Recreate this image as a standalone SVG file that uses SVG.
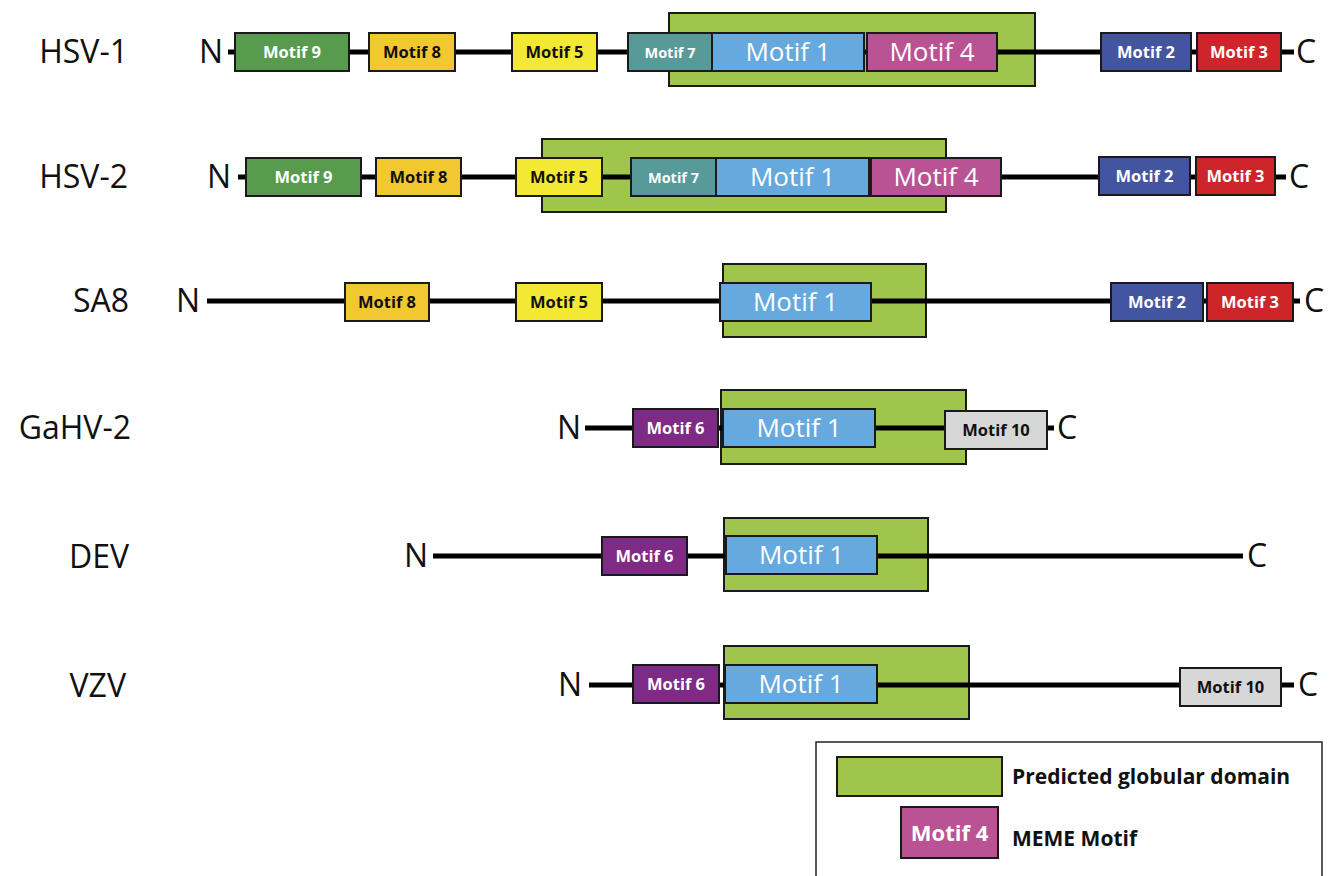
<svg xmlns="http://www.w3.org/2000/svg" width="1333" height="876" viewBox="0 0 1333 876">
<style>
text{font-family:"Open Sans","Liberation Sans",sans-serif}
.lbl{font-size:32px;fill:#111}
.end{font-size:32px;fill:#111}
.dom{fill:#9fc54d;stroke:#1a1a1a;stroke-width:2}
.box{stroke:#1a1a1a;stroke-width:2}
.bb{stroke:#000;stroke-width:5}
.sm{font-size:16.5px;font-weight:bold;text-anchor:middle;fill:#fff}
.m7t{font-size:14.5px}
.dk{fill:#111}
.lg{font-size:26px;text-anchor:middle;fill:#fff}
.m9{fill:#589b4e}.m8{fill:#f2c830}.m5{fill:#f3e834}.m7{fill:#579a98}.m1{fill:#65a9df}.m4{fill:#b95394}.m2{fill:#4455a0}.m3{fill:#cd2529}.m6{fill:#7e2b85}.m10{fill:#d7d7d7}
.leg{font-size:21px;font-weight:bold;fill:#111}
</style>
<rect width="1333" height="876" fill="#fff"/>

<g id="labels">
<text class="lbl" x="128" y="63" text-anchor="end">HSV-1</text>
<text class="lbl" x="128" y="188" text-anchor="end">HSV-2</text>
<text class="lbl" x="129" y="312" text-anchor="end">SA8</text>
<text class="lbl" x="131" y="439" text-anchor="end">GaHV-2</text>
<text class="lbl" x="129" y="568" text-anchor="end">DEV</text>
<text class="lbl" x="126" y="697" text-anchor="end">VZV</text>
</g>

<g id="domains">
<rect id="dom-hsv1" class="dom" x="669" y="13" width="366" height="73"/>
<rect id="dom-hsv2" class="dom" x="542" y="139" width="404" height="73"/>
<rect id="dom-sa8" class="dom" x="723" y="264" width="203" height="73"/>
<rect id="dom-gahv2" class="dom" x="721" y="390" width="245" height="74"/>
<rect id="dom-dev" class="dom" x="724" y="518" width="204" height="73"/>
<rect id="dom-vzv" class="dom" x="724" y="646" width="245" height="73"/>
</g>

<g id="connectors">
<line class="bb" x1="228" y1="52" x2="1294" y2="52"/>
<line class="bb" x1="238" y1="177" x2="1286" y2="177"/>
<line class="bb" x1="207" y1="301" x2="1300" y2="301"/>
<line class="bb" x1="585" y1="428" x2="1054" y2="428"/>
<line class="bb" x1="433" y1="556" x2="1243" y2="556"/>
<line class="bb" x1="589" y1="685" x2="1294" y2="685"/>
</g>

<g id="termini">
<text class="end" x="223" y="63" text-anchor="end">N</text>
<text class="end" x="1296" y="63">C</text>
<text class="end" x="231" y="188" text-anchor="end">N</text>
<text class="end" x="1289" y="188">C</text>
<text class="end" x="200" y="312" text-anchor="end">N</text>
<text class="end" x="1304" y="312">C</text>
<text class="end" x="581" y="439" text-anchor="end">N</text>
<text class="end" x="1057" y="439">C</text>
<text class="end" x="428" y="567" text-anchor="end">N</text>
<text class="end" x="1247" y="567">C</text>
<text class="end" x="582" y="696" text-anchor="end">N</text>
<text class="end" x="1298" y="696">C</text>
</g>

<!-- HSV-1 -->
<g id="hsv1-m9"><rect class="box m9" x="235" y="33" width="114" height="38"/><text class="sm" x="292" y="58">Motif 9</text></g>
<g id="hsv1-m8"><rect class="box m8" x="369" y="33" width="86" height="38"/><text class="sm dk" x="412" y="58">Motif 8</text></g>
<g id="hsv1-m5"><rect class="box m5" x="512" y="33" width="85" height="38"/><text class="sm dk" x="554.5" y="58">Motif 5</text></g>
<g id="hsv1-m7"><rect class="box m7" x="628" y="33" width="84" height="38"/><text class="sm m7t" x="670" y="57.5">Motif 7</text></g>
<g id="hsv1-m1"><rect class="box m1" x="712" y="33" width="152" height="38"/><text class="lg" x="788" y="61">Motif 1</text></g>
<g id="hsv1-m4"><rect class="box m4" x="867" y="33" width="130" height="38"/><text class="lg" x="932" y="61">Motif 4</text></g>
<g id="hsv1-m2"><rect class="box m2" x="1101" y="33" width="90" height="38"/><text class="sm" x="1146" y="58">Motif 2</text></g>
<g id="hsv1-m3"><rect class="box m3" x="1197" y="33" width="84" height="38"/><text class="sm" x="1239" y="58">Motif 3</text></g>

<!-- HSV-2 -->
<g id="hsv2-m9"><rect class="box m9" x="246" y="158" width="115" height="38"/><text class="sm" x="303.5" y="183">Motif 9</text></g>
<g id="hsv2-m8"><rect class="box m8" x="376" y="158" width="85" height="38"/><text class="sm dk" x="418.5" y="183">Motif 8</text></g>
<g id="hsv2-m5"><rect class="box m5" x="516" y="158" width="86" height="38"/><text class="sm dk" x="559" y="183">Motif 5</text></g>
<g id="hsv2-m7"><rect class="box m7" x="631" y="158" width="85" height="38"/><text class="sm m7t" x="673.5" y="182.5">Motif 7</text></g>
<g id="hsv2-m1"><rect class="box m1" x="716" y="158" width="153" height="38"/><text class="lg" x="792.5" y="186">Motif 1</text></g>
<g id="hsv2-m4"><rect class="box m4" x="871" y="158" width="130" height="38"/><text class="lg" x="936" y="186">Motif 4</text></g>
<g id="hsv2-m2"><rect class="box m2" x="1099" y="157" width="91" height="38"/><text class="sm" x="1144.5" y="182">Motif 2</text></g>
<g id="hsv2-m3"><rect class="box m3" x="1196" y="157" width="79" height="38"/><text class="sm" x="1235.5" y="182">Motif 3</text></g>

<!-- SA8 -->
<g id="sa8-m8"><rect class="box m8" x="345" y="283" width="84" height="38"/><text class="sm dk" x="387" y="308">Motif 8</text></g>
<g id="sa8-m5"><rect class="box m5" x="516" y="283" width="86" height="38"/><text class="sm dk" x="559" y="308">Motif 5</text></g>
<g id="sa8-m1"><rect class="box m1" x="720" y="283" width="151" height="38"/><text class="lg" x="795.5" y="311">Motif 1</text></g>
<g id="sa8-m2"><rect class="box m2" x="1111" y="283" width="92" height="38"/><text class="sm" x="1157" y="308">Motif 2</text></g>
<g id="sa8-m3"><rect class="box m3" x="1207" y="283" width="86" height="38"/><text class="sm" x="1250" y="308">Motif 3</text></g>

<!-- GaHV-2 -->
<g id="gahv2-m6"><rect class="box m6" x="633" y="409" width="85" height="38"/><text class="sm" x="675.5" y="434">Motif 6</text></g>
<g id="gahv2-m1"><rect class="box m1" x="723" y="409" width="152" height="38"/><text class="lg" x="799" y="437">Motif 1</text></g>
<g id="gahv2-m10"><rect class="box m10" x="945" y="411" width="102" height="38"/><text class="sm dk" x="996" y="436">Motif 10</text></g>

<!-- DEV -->
<g id="dev-m6"><rect class="box m6" x="602" y="537" width="85" height="38"/><text class="sm" x="644.5" y="562">Motif 6</text></g>
<g id="dev-m1"><rect class="box m1" x="726" y="536" width="151" height="38"/><text class="lg" x="801.5" y="564">Motif 1</text></g>

<!-- VZV -->
<g id="vzv-m6"><rect class="box m6" x="633" y="665" width="86" height="38"/><text class="sm" x="676" y="690">Motif 6</text></g>
<g id="vzv-m1"><rect class="box m1" x="725" y="665" width="152" height="38"/><text class="lg" x="801" y="693">Motif 1</text></g>
<g id="vzv-m10"><rect class="box m10" x="1180" y="668" width="101" height="38"/><text class="sm dk" x="1230.5" y="693">Motif 10</text></g>

<!-- Legend -->
<g id="legend">
<rect x="816" y="742" width="506" height="150" fill="#fff" stroke="#222" stroke-width="1.5"/>
<rect class="dom" x="837" y="757" width="165" height="39"/>
<text class="leg" x="1012" y="784">Predicted globular domain</text>
<rect class="box m4" x="901" y="807" width="97" height="51"/>
<text x="949.5" y="841" text-anchor="middle" font-size="22" font-weight="bold" fill="#fff">Motif 4</text>
<text class="leg" x="1012" y="846">MEME Motif</text>
</g>
</svg>
